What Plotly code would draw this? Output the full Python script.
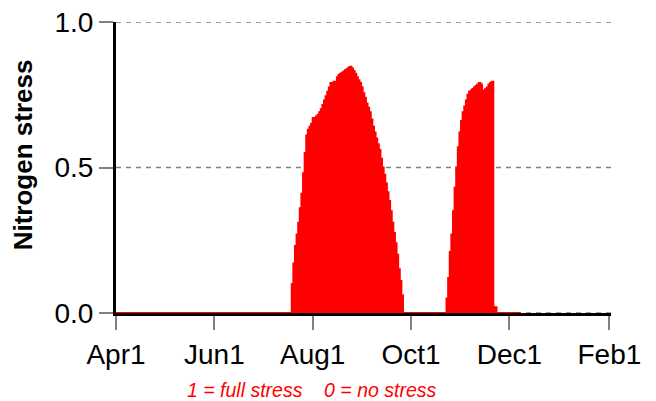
import pandas as pd
import plotly.graph_objects as go

# ---- data ----
season_start = "2022-04-01"
n_days = 252  # simulated days shown (Apr1 .. ~Dec8)

peak1_start_day = 109
peak1 = [0.10, 0.17, 0.23, 0.27, 0.31, 0.36, 0.41, 0.48, 0.55, 0.61,
         0.63, 0.64, 0.65, 0.67, 0.67, 0.675, 0.68, 0.69, 0.70, 0.715,
         0.73, 0.745, 0.76, 0.775, 0.79, 0.79, 0.795, 0.795, 0.81, 0.818,
         0.822, 0.826, 0.83, 0.834, 0.838, 0.843, 0.846, 0.84, 0.832, 0.822,
         0.81, 0.80, 0.79, 0.775, 0.755, 0.74, 0.72, 0.705, 0.69, 0.665,
         0.64, 0.62, 0.60, 0.58, 0.56, 0.53, 0.50, 0.475, 0.445, 0.415,
         0.385, 0.35, 0.31, 0.275, 0.24, 0.20, 0.15, 0.11, 0.06]

peak2_start_day = 205
peak2 = [0.05, 0.12, 0.21, 0.27, 0.35, 0.43, 0.50, 0.57, 0.62, 0.66,
         0.69, 0.71, 0.73, 0.75, 0.76, 0.765, 0.77, 0.775, 0.78, 0.785,
         0.79, 0.785, 0.765, 0.765, 0.77, 0.775, 0.785, 0.79, 0.795, 0.02,
         0.02]

tick_dates = ["2022-04-01", "2022-06-01", "2022-08-01", "2022-10-01",
              "2022-12-01", "2023-02-01"]
tick_labels = ["Apr1", "Jun1", "Aug1", "Oct1", "Dec1", "Feb1"]
y_ticks = [0.0, 0.5, 1.0]
y_tick_labels = ["0.0", "0.5", "1.0"]
y_title = "Nitrogen stress"
note = "1 = full stress    0 = no stress"

# ---- build daily series ----
stress = [0.0] * n_days
for i, v in enumerate(peak1):
    stress[peak1_start_day + i] = v
for i, v in enumerate(peak2):
    stress[peak2_start_day + i] = v
dates = pd.date_range(season_start, periods=n_days, freq="D")

fig = go.Figure()
fig.add_trace(go.Scatter(
    x=dates, y=stress, mode="lines", line=dict(color="#FF0000", width=2, shape="hv"),
    fill="tozeroy", fillcolor="#FF0000", hoverinfo="skip", showlegend=False))

# dashed horizontal grid lines at the y ticks
for yv in y_ticks:
    fig.add_shape(type="line", xref="paper", x0=0, x1=1, yref="y", y0=yv, y1=yv,
                  line=dict(color="#808080", width=1.5, dash="5px,5px"), layer="below")

font_family = "Liberation Sans, Arial, sans-serif"
fig.update_layout(
    width=648, height=393,
    margin=dict(l=108, r=45, t=14, b=88),
    paper_bgcolor="white", plot_bgcolor="white",
    font=dict(family=font_family, color="black", size=28),
    showlegend=False,
    xaxis=dict(
        type="date",
        range=["2022-04-01", "2023-02-02"],
        tickvals=tick_dates, ticktext=tick_labels,
        showgrid=False, zeroline=False,
        showline=True, linecolor="black", linewidth=3,
        ticks="outside", ticklen=14, tickwidth=1.5, tickcolor="#808080",
        tickfont=dict(size=28), layer="below traces", automargin=False,
        ticklabeloverflow="allow",
    ),
    yaxis=dict(
        range=[0, 1],
        tickvals=y_ticks, ticktext=y_tick_labels,
        showgrid=False, zeroline=False,
        showline=True, linecolor="black", linewidth=3,
        ticks="outside", ticklen=14, tickwidth=1.5, tickcolor="#808080",
        tickfont=dict(size=28), layer="below traces", automargin=False,
        ticklabeloverflow="allow",
    ),
    annotations=[
        dict(text="<b>" + y_title + "</b>", textangle=-90,
             xref="paper", yref="paper", x=-0.188, y=0.545,
             xanchor="center", yanchor="middle", showarrow=False,
             font=dict(size=26, color="black", family=font_family)),
        dict(text="<i>" + note + "</i>",
             xref="paper", yref="paper", x=0.396, y=-0.265,
             xanchor="center", yanchor="middle", showarrow=False,
             font=dict(size=19.5, color="#FF0000", family=font_family)),
    ],
)

fig.write_html("out.html")
